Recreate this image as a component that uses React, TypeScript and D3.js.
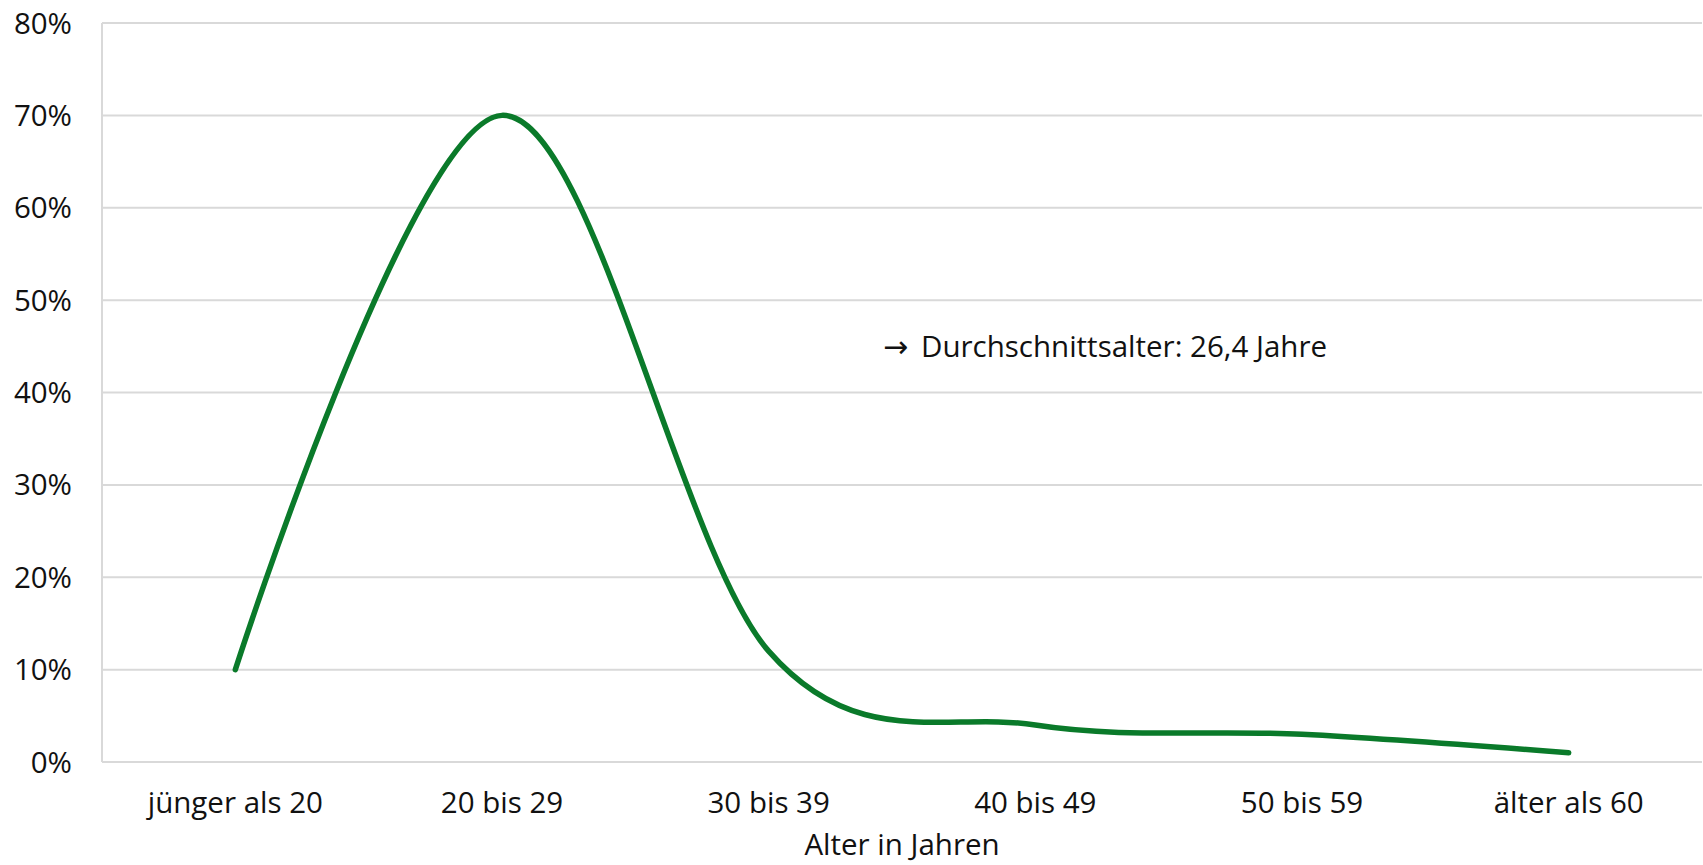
import React from "react";
import * as d3 from "d3";

const categories = ["jünger als 20", "20 bis 29", "30 bis 39", "40 bis 49", "50 bis 59", "älter als 60"];
const values = [0.10, 0.70, 0.12, 0.04, 0.03, 0.01];
const yTicks = [0, 0.1, 0.2, 0.3, 0.4, 0.5, 0.6, 0.7, 0.8];
const annotationArrow = "→";
const annotation = "Durchschnittsalter: 26,4 Jahre";
const xTitle = "Alter in Jahren";

const W = 1703;
const H = 865;
const FONT = "'Open Sans', sans-serif";

export default function App() {
  const left = 102, right = 1702, top = 23, bottom = 762;
  const x = d3.scalePoint<string>().domain(categories).range([left, right]).padding(0.5);
  const y = d3.scaleLinear().domain([0, 0.8]).range([bottom, top]);
  const line = d3
    .line<number>()
    .x((_, i) => x(categories[i]) as number)
    .y((d) => y(d))
    .curve(d3.curveCardinal.tension(0));
  const fmt = d3.format(".0%");
  return (
    <svg width={W} height={H} style={{ position: "absolute", left: 0, top: 0, background: "#fff" }}>
      <g>
        {yTicks.map((t) => (
          <line key={t} x1={left} x2={right} y1={y(t)} y2={y(t)} stroke="#d9d9d9" strokeWidth={2} />
        ))}
        <line x1={left} x2={left} y1={top} y2={bottom} stroke="#d9d9d9" strokeWidth={2} />
      </g>
      <g fontFamily={FONT} fontSize={29.5} fill="#111">
        {yTicks.map((t) => (
          <text key={t} x={72} y={y(t)} dy="0.36em" textAnchor="end">
            {fmt(t)}
          </text>
        ))}
        {categories.map((c) => (
          <text key={c} x={x(c)} y={813} textAnchor="middle">
            {c}
          </text>
        ))}
        <text x={(left + right) / 2} y={855} textAnchor="middle">
          {xTitle}
        </text>
        <text x={883} y={357} fontFamily="'DejaVu Sans', sans-serif" fontSize={30}>
          {annotationArrow}
        </text>
        <text x={921} y={357}>
          {annotation}
        </text>
      </g>
      <path d={line(values) || ""} fill="none" stroke="#0a7a2a" strokeWidth={5.5} strokeLinecap="round" />
    </svg>
  );
}
